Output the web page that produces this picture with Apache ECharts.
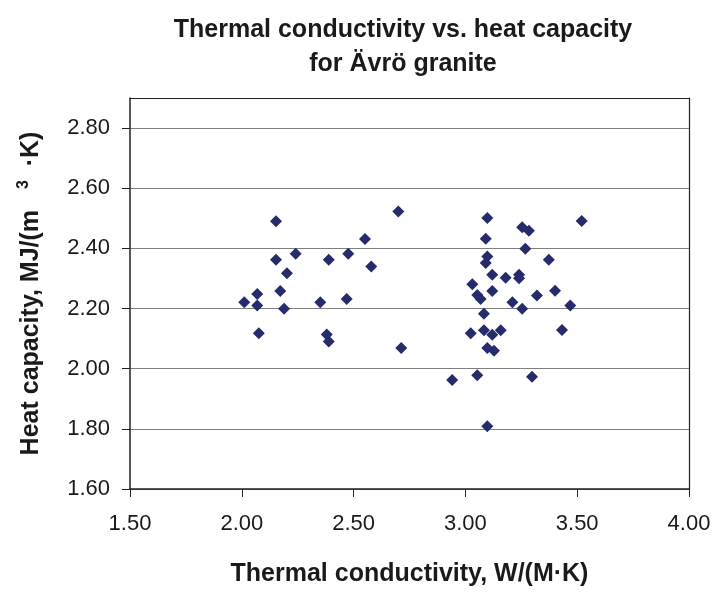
<!DOCTYPE html>
<html><head><meta charset="utf-8">
<script src="https://cdn.jsdelivr.net/npm/echarts@6/dist/echarts.min.js"></script>
<style>html,body{margin:0;padding:0;background:#fff}#c{width:717px;height:592px}</style>
</head><body><div id="c"></div>
<script>
// Thermal conductivity (W/(m·K)) values
const conductivity = [
  2.153, 2.700, 2.551, 2.241, 2.153, 2.389, 2.476, 2.579, 2.202, 2.172,
  2.069, 2.011, 2.069, 2.189, 2.351, 2.469, 2.076, 2.380, 2.389, 2.713,
  3.098, 3.520, 3.254, 3.284, 3.091, 3.268, 3.098, 3.091, 3.373, 3.120,
  3.180, 3.240, 3.240, 3.031, 3.053, 3.068, 3.120, 3.320, 3.401, 3.210,
  3.254, 3.469, 3.083, 3.024, 3.083, 3.120, 3.158, 3.432, 3.098, 3.128,
  2.941, 3.053, 3.298, 3.098
];
// Heat capacity (MJ/(m3·K)) values
const heatCapacity = [
  2.490, 2.523, 2.431, 2.382, 2.362, 2.362, 2.382, 2.340, 2.317, 2.258,
  2.248, 2.221, 2.210, 2.199, 2.221, 2.232, 2.118, 2.114, 2.090, 2.069,
  2.501, 2.491, 2.470, 2.459, 2.432, 2.399, 2.373, 2.351, 2.362, 2.312,
  2.302, 2.312, 2.301, 2.281, 2.245, 2.232, 2.258, 2.243, 2.259, 2.221,
  2.199, 2.210, 2.183, 2.118, 2.128, 2.113, 2.128, 2.129, 2.069, 2.060,
  1.962, 1.978, 1.973, 1.809
];
const xTicks = [1.5, 2.0, 2.5, 3.0, 3.5, 4.0];
const yTicks = [1.6, 1.8, 2.0, 2.2, 2.4, 2.6, 2.8];

const points = conductivity.map((x, i) => [x, heatCapacity[i]]);
const labelFont = 'Liberation Sans, Arial, sans-serif';
const boldFont = '"Liberation Sans", Arial, sans-serif';
const axisCol = '#222';

const chart = echarts.init(document.getElementById('c'), null, {renderer: 'canvas'});
chart.setOption({
  animation: false,
  backgroundColor: '#fff',
  title: {
    text: 'Thermal conductivity vs. heat capacity\nfor Ävrö granite',
    left: 398, top: 8, textAlign: 'center',
    textStyle: {fontFamily: boldFont, fontWeight: 'bold', fontSize: 25, lineHeight: 34, color: '#1a1a1a'}
  },
  grid: {left: 130, right: 28, top: 98, bottom: 95, containLabel: false},
  xAxis: [{
    type: 'value', min: 1.5, max: 4.0, interval: 0.5,
    name: 'Thermal conductivity, W/(M·K)', nameLocation: 'middle', nameGap: 73,
    nameTextStyle: {fontFamily: boldFont, fontWeight: 'bold', fontSize: 25, color: '#1a1a1a'},
    axisLine: {show: true, onZero: false, lineStyle: {color: axisCol, width: 1.5}},
    axisTick: {show: true, inside: false, length: 8, lineStyle: {color: axisCol}, customValues: xTicks},
    axisLabel: {customValues: xTicks, formatter: v => v.toFixed(2), margin: 24,
      fontFamily: labelFont, fontSize: 22, color: '#1a1a1a'},
    splitLine: {show: false}
  }, {
    type: 'value', min: 1.5, max: 4.0, position: 'top',
    axisLine: {show: true, onZero: false, lineStyle: {color: axisCol, width: 1.2}},
    axisTick: {show: false}, axisLabel: {show: false}, splitLine: {show: false}
  }],
  yAxis: [{
    type: 'value', min: 1.6, max: 2.9, interval: 0.2,
    name: 'Heat capacity, MJ/(m   {sup|3}  ·K)', nameLocation: 'middle', nameGap: 84,
    nameTextStyle: {fontFamily: boldFont, fontWeight: 'bold', fontSize: 25, color: '#1a1a1a',
      rich: {sup: {fontFamily: boldFont, fontWeight: 'bold', fontSize: 16, verticalAlign: 'bottom', padding: [0, 0, 14, 0], color: '#1a1a1a'}}},
    axisLine: {show: true, onZero: false, lineStyle: {color: axisCol, width: 1.5}},
    axisTick: {show: true, inside: false, length: 8, lineStyle: {color: axisCol}, customValues: yTicks},
    axisLabel: {customValues: yTicks, formatter: v => v.toFixed(2), margin: 20,
      fontFamily: labelFont, fontSize: 22, color: '#1a1a1a'},
    splitLine: {show: true, lineStyle: {color: '#808080', width: 1.2}}
  }, {
    type: 'value', min: 1.6, max: 2.9, position: 'right',
    axisLine: {show: true, onZero: false, lineStyle: {color: axisCol, width: 1.2}},
    axisTick: {show: false}, axisLabel: {show: false}, splitLine: {show: false}
  }],
  series: [{
    type: 'scatter', xAxisIndex: 0, yAxisIndex: 0,
    data: points, symbol: 'diamond', symbolSize: 12,
    itemStyle: {color: '#262b6b', opacity: 1}
  }]
});
</script></body></html>
